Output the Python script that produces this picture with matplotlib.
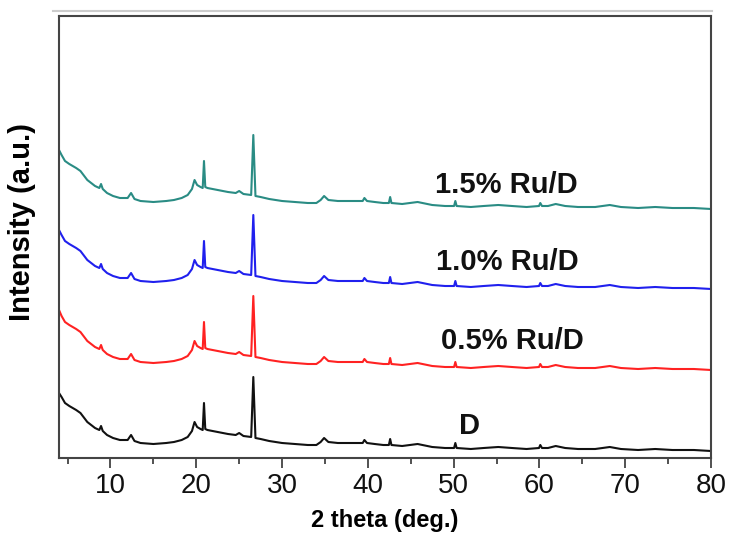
import matplotlib
matplotlib.use("Agg")
import matplotlib.pyplot as plt
from matplotlib.lines import Line2D
from matplotlib.ticker import MultipleLocator

two_theta = [4.0, 4.3, 4.7, 5.2, 5.6, 6.0, 6.5, 7.3, 8.2, 8.7,
             8.9, 9.1, 9.6, 10.3, 11.1, 12.0, 12.4, 12.8, 13.5, 15.0,
             16.5, 17.4, 18.3, 19.0, 19.5, 19.8, 20.1, 20.5, 20.75, 20.9,
             21.05, 21.3, 22.5, 23.7, 24.6, 25.0, 25.5, 26.4, 26.65, 26.9,
             27.5, 28.5, 30.0, 31.5, 33.0, 34.0, 34.5, 34.9, 35.4, 36.5,
             38.0, 39.4, 39.6, 39.9, 40.8, 41.8, 42.45, 42.6, 42.75, 44.0,
             45.8, 47.5, 49.0, 50.05, 50.2, 50.35, 52.0, 53.5, 55.2, 56.8,
             58.5, 59.95, 60.1, 60.3, 61.0, 61.9, 63.0, 64.5, 66.5, 68.2,
             69.5, 71.5, 73.5, 75.5, 78.0, 80.0]

int_D = [65, 61, 55, 52, 50, 48, 45, 36, 30, 28,
         32, 27, 23, 20, 18, 18, 23, 17, 15, 14,
         15, 16, 18, 21, 27, 36, 31, 29, 28, 55,
         29, 28, 26, 24, 23, 25, 22, 21, 81, 20,
         19, 17, 15, 14, 13, 13, 16, 20, 16, 15,
         15, 15, 18, 15, 14, 13, 13, 19, 13, 12,
         14, 11, 10, 10, 15, 10, 9, 10, 11, 10,
         9, 10, 13, 10, 10, 12, 10, 9, 9, 11,
         9, 8, 9, 8, 8, 7]

int_05 = [148, 142, 136, 133, 131, 129, 126, 117, 111, 109,
          113, 108, 104, 101, 99, 99, 104, 98, 96, 95,
          96, 97, 99, 102, 108, 117, 112, 110, 109, 136,
          110, 109, 107, 105, 104, 106, 103, 102, 162, 101,
          100, 98, 96, 95, 94, 94, 97, 101, 97, 96,
          96, 96, 99, 96, 95, 94, 94, 100, 94, 93,
          95, 92, 91, 91, 96, 91, 90, 91, 92, 91,
          90, 91, 94, 91, 91, 93, 91, 90, 90, 92,
          90, 89, 90, 89, 89, 88]

int_10 = [228, 223, 217, 214, 212, 210, 207, 198, 192, 190,
          194, 189, 185, 182, 180, 180, 185, 179, 177, 176,
          177, 178, 180, 183, 189, 198, 193, 191, 190, 217,
          191, 190, 188, 186, 185, 187, 184, 183, 243, 182,
          181, 179, 177, 176, 175, 175, 178, 182, 178, 177,
          177, 177, 180, 177, 176, 175, 175, 181, 175, 174,
          176, 173, 172, 172, 177, 172, 171, 172, 173, 172,
          171, 172, 175, 172, 172, 174, 172, 171, 171, 173,
          171, 170, 171, 170, 170, 169]

int_15 = [308, 303, 297, 294, 292, 290, 287, 278, 272, 270,
          274, 269, 265, 262, 260, 260, 265, 259, 257, 256,
          257, 258, 260, 263, 269, 278, 273, 271, 270, 297,
          271, 270, 268, 266, 265, 267, 264, 263, 323, 262,
          261, 259, 257, 256, 255, 255, 258, 262, 258, 257,
          257, 257, 260, 257, 256, 255, 255, 261, 255, 254,
          256, 253, 252, 252, 257, 252, 251, 252, 253, 252,
          251, 252, 255, 252, 252, 254, 252, 251, 251, 253,
          251, 250, 251, 250, 250, 249]

labels = ["D", "0.5% Ru/D", "1.0% Ru/D", "1.5% Ru/D"]
label_x = [51.9, 56.8, 56.3, 56.1]
label_y = [32, 117, 196, 273]
colors = ["#111111", "#ff2222", "#2020ee", "#2a8c84"]
series = [int_D, int_05, int_10, int_15]

plt.rcParams['font.family'] = ['Liberation Sans', 'DejaVu Sans']

fig = plt.figure(figsize=(7.30, 5.35), dpi=100)
ax = fig.add_axes([59/730, 77/535, 652/730, 442/535])

for ys, c in zip(series, colors):
    ax.plot(two_theta, ys, color=c, lw=1.5)

for t, xx, yy in zip(labels, label_x, label_y):
    ax.text(xx, yy, t, ha='center', va='center', fontsize=21,
            fontweight='bold', color='#111111')

ax.set_xlim(4, 80)
ax.set_ylim(0, 442)
ax.xaxis.set_major_locator(MultipleLocator(10))
ax.xaxis.set_minor_locator(MultipleLocator(5))
ax.tick_params(axis='x', which='major', direction='out', length=7, width=1.2,
               labelsize=20, pad=4, color='#333333', labelcolor='#111111')
ax.tick_params(axis='x', which='minor', direction='out', length=4, width=1.2,
               color='#333333')
ax.set_yticks([])
for s in ax.spines.values():
    s.set_color('#444444')
    s.set_linewidth(1.5)

ax.set_xlabel('2 theta (deg.)', fontsize=17, fontweight='bold', labelpad=7)
ax.set_ylabel('Intensity (a.u.)', fontsize=21, fontweight='bold')
ax.yaxis.set_label_coords(-0.036, 0.535)

fig.add_artist(Line2D([53/730, 712/730], [1 - 10.5/535, 1 - 10.5/535],
                      color='#cccccc', lw=1.5, transform=fig.transFigure))

fig.savefig('out.png', dpi=100)
